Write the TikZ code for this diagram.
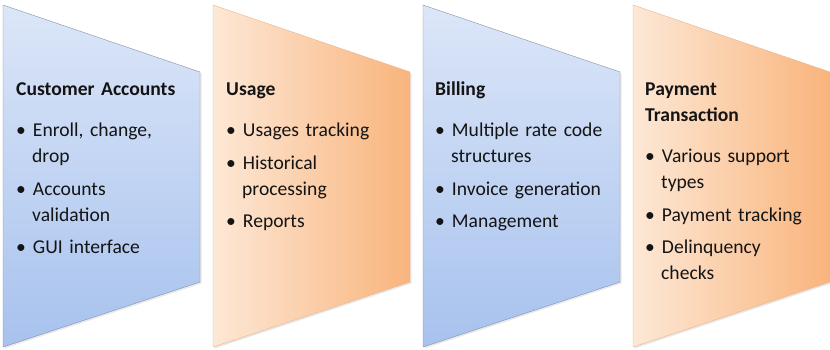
\documentclass[tikz,border=0pt]{standalone}
\usepackage{fontspec}
\setmainfont{Carlito}
\usepackage{xcolor}
\usepackage{tikz}
\usetikzlibrary{positioning,shadows}
\definecolor{bluetop}{HTML}{DCE6F8}
\definecolor{bluebot}{HTML}{A7C2EE}
\definecolor{blueline}{HTML}{8291AA}
\definecolor{orangeleft}{HTML}{FDE8D6}
\definecolor{orangeright}{HTML}{F9B47C}
\definecolor{orangeline}{HTML}{E9B58C}
\definecolor{textdark}{HTML}{141414}
\newcommand{\pointlist}[1]{\begin{list}{\textbullet}{\setlength{\leftmargin}{16pt}%
  \setlength{\labelsep}{7pt}\setlength{\labelwidth}{9pt}\setlength{\topsep}{15.5pt}%
  \setlength{\partopsep}{0pt}\setlength{\itemsep}{6.5pt}\setlength{\parsep}{0pt}}#1\end{list}}

\begin{document}
\begin{tikzpicture}[x=1pt,y=-1pt,
  bluebox/.style={draw=blueline, top color=bluetop, bottom color=bluebot},
  orangebox/.style={draw=orangeline, left color=orangeleft, right color=orangeright},
  stageshadow/.style={drop shadow={opacity=0.18, shadow xshift=1.5pt, shadow yshift=-1.5pt}},
  boxtext/.style={anchor=north west, inner sep=0pt, text width=185pt, align=left,
    text=textdark, font=\fontsize{19.6}{26}\selectfont}]
  \useasboundingbox (0,0) rectangle (830,350);
  \foreach \x/\kind in {3/bluebox,213/orangebox,423/bluebox,633/orangebox}
    \path[\kind, stageshadow] (\x,5) -- (\x+197,72) -- (\x+197,282) -- (\x,347) -- cycle;
  \node[boxtext] (accounts) at (16,77) {\strut\textbf{Customer Accounts}
    \pointlist{\item Enroll, change,\newline drop
      \item Accounts\newline validation
      \item GUI interface}};
  \node[boxtext] (usage) at (226,77) {\strut\textbf{Usage}
    \pointlist{\item Usages tracking
      \item Historical\newline processing
      \item Reports}};
  \node[boxtext] (billing) at (435,77) {\strut\textbf{Billing}
    \pointlist{\item Multiple rate code\newline structures
      \item Invoice generation
      \item Management}};
  \node[boxtext] (payment) at (645,77) {\strut\textbf{Payment\newline Transaction}
    \pointlist{\item Various support\newline types
      \item Payment tracking
      \item Delinquency\newline checks}};
\end{tikzpicture}
\end{document}
